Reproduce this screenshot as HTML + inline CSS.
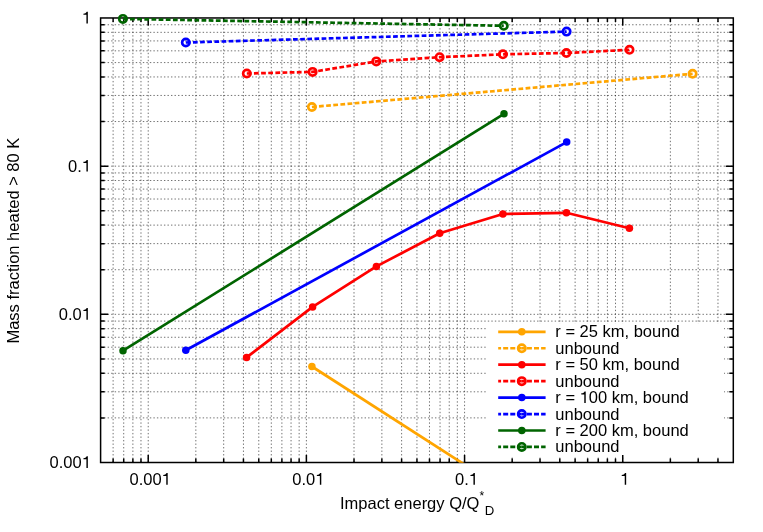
<!DOCTYPE html>
<html><head><meta charset="utf-8"><title>chart</title>
<style>
html,body{margin:0;padding:0;background:#fff}
body{width:763px;height:532px;position:relative;overflow:hidden}
.t{font-family:"Liberation Sans",sans-serif;font-size:16.5px;fill:#000}
</style></head><body>
<svg width="763" height="532" viewBox="0 0 763 532" style="position:absolute;left:0;top:0;will-change:transform">
<rect width="763" height="532" fill="#fff"/>
<g fill="none" stroke="#000" stroke-opacity="0.66" stroke-width="0.85" stroke-dasharray="1.4 2.12">
<path d="M113.12 462.5V17.97M123.71 462.5V17.97M132.89 462.5V17.97M140.98 462.5V17.97M195.83 462.5V17.97M223.68 462.5V17.97M243.45 462.5V17.97M258.77 462.5V17.97M271.3 462.5V17.97M281.89 462.5V17.97M291.06 462.5V17.97M299.15 462.5V17.97M354.01 462.5V17.97M381.86 462.5V17.97M401.62 462.5V17.97M416.95 462.5V17.97M429.47 462.5V17.97M440.06 462.5V17.97M449.24 462.5V17.97M457.33 462.5V17.97M512.18 462.5V17.97M540.03 462.5V17.97M559.8 462.5V17.97M575.12 462.5V17.97M587.65 462.5V17.97M598.24 462.5V17.97M607.41 462.5V17.97M615.5 462.5V17.97M670.36 462.5V17.97M698.21 462.5V17.97M717.97 462.5V17.97M100.6 417.89H733.3M100.6 391.8H733.3M100.6 373.29H733.3M100.6 358.93H733.3M100.6 347.2H733.3M100.6 337.28H733.3M100.6 328.68H733.3M100.6 321.1H733.3M100.6 269.72H733.3M100.6 243.63H733.3M100.6 225.11H733.3M100.6 210.75H733.3M100.6 199.02H733.3M100.6 189.1H733.3M100.6 180.51H733.3M100.6 172.93H733.3M100.6 121.54H733.3M100.6 95.45H733.3M100.6 76.94H733.3M100.6 62.58H733.3M100.6 50.84H733.3M100.6 40.92H733.3M100.6 32.33H733.3M100.6 24.75H733.3"/></g>
<g fill="none" stroke="#000" stroke-opacity="0.66" stroke-width="0.85" stroke-dasharray="1.4 2.12">
<path d="M148.22 462.5V17.97M306.39 462.5V17.97M464.57 462.5V17.97M622.74 462.5V17.97M100.6 314.32H733.3M100.6 166.15H733.3"/></g>
<rect x="487" y="323.5" width="237" height="132.5" fill="#fff"/>
<path d="M148.22 462.5v-7.6 M148.22 17.97v7.6M306.39 462.5v-7.6 M306.39 17.97v7.6M464.57 462.5v-7.6 M464.57 17.97v7.6M622.74 462.5v-7.6 M622.74 17.97v7.6M113.12 462.5v-4 M113.12 17.97v4M123.71 462.5v-4 M123.71 17.97v4M132.89 462.5v-4 M132.89 17.97v4M140.98 462.5v-4 M140.98 17.97v4M195.83 462.5v-4 M195.83 17.97v4M223.68 462.5v-4 M223.68 17.97v4M243.45 462.5v-4 M243.45 17.97v4M258.77 462.5v-4 M258.77 17.97v4M271.3 462.5v-4 M271.3 17.97v4M281.89 462.5v-4 M281.89 17.97v4M291.06 462.5v-4 M291.06 17.97v4M299.15 462.5v-4 M299.15 17.97v4M354.01 462.5v-4 M354.01 17.97v4M381.86 462.5v-4 M381.86 17.97v4M401.62 462.5v-4 M401.62 17.97v4M416.95 462.5v-4 M416.95 17.97v4M429.47 462.5v-4 M429.47 17.97v4M440.06 462.5v-4 M440.06 17.97v4M449.24 462.5v-4 M449.24 17.97v4M457.33 462.5v-4 M457.33 17.97v4M512.18 462.5v-4 M512.18 17.97v4M540.03 462.5v-4 M540.03 17.97v4M559.8 462.5v-4 M559.8 17.97v4M575.12 462.5v-4 M575.12 17.97v4M587.65 462.5v-4 M587.65 17.97v4M598.24 462.5v-4 M598.24 17.97v4M607.41 462.5v-4 M607.41 17.97v4M615.5 462.5v-4 M615.5 17.97v4M670.36 462.5v-4 M670.36 17.97v4M698.21 462.5v-4 M698.21 17.97v4M717.97 462.5v-4 M717.97 17.97v4M100.6 314.32h7.6 M733.3 314.32h-7.6M100.6 166.15h7.6 M733.3 166.15h-7.6M100.6 417.89h4 M733.3 417.89h-4M100.6 391.8h4 M733.3 391.8h-4M100.6 373.29h4 M733.3 373.29h-4M100.6 358.93h4 M733.3 358.93h-4M100.6 347.2h4 M733.3 347.2h-4M100.6 337.28h4 M733.3 337.28h-4M100.6 328.68h4 M733.3 328.68h-4M100.6 321.1h4 M733.3 321.1h-4M100.6 269.72h4 M733.3 269.72h-4M100.6 243.63h4 M733.3 243.63h-4M100.6 225.11h4 M733.3 225.11h-4M100.6 210.75h4 M733.3 210.75h-4M100.6 199.02h4 M733.3 199.02h-4M100.6 189.1h4 M733.3 189.1h-4M100.6 180.51h4 M733.3 180.51h-4M100.6 172.93h4 M733.3 172.93h-4M100.6 121.54h4 M733.3 121.54h-4M100.6 95.45h4 M733.3 95.45h-4M100.6 76.94h4 M733.3 76.94h-4M100.6 62.58h4 M733.3 62.58h-4M100.6 50.84h4 M733.3 50.84h-4M100.6 40.92h4 M733.3 40.92h-4M100.6 32.33h4 M733.3 32.33h-4M100.6 24.75h4 M733.3 24.75h-4" stroke="#000" stroke-width="1.5" fill="none"/>
<rect x="100.6" y="17.97" width="632.7" height="444.53" fill="none" stroke="#000" stroke-width="1.5"/>
<clipPath id="c"><rect x="94.6" y="0" width="644.7" height="462.8"/></clipPath>
<g stroke="#ffa500" fill="none" stroke-width="2.7" stroke-linejoin="round" stroke-linecap="butt">
<polyline clip-path="url(#c)" points="311.9,366.5 471.9,469.3"/>
<circle cx="311.9" cy="366.5" r="3.75" fill="#ffa500" stroke="none"/>
<polyline stroke-dasharray="4.75 2.4" points="311.9,107 692.6,73.8"/>
<circle cx="311.9" cy="107" r="3.68" stroke-width="2.65"/>
<circle cx="692.6" cy="73.8" r="3.68" stroke-width="2.65"/>
</g>
<g stroke="#ff0000" fill="none" stroke-width="2.7" stroke-linejoin="round" stroke-linecap="butt">
<polyline clip-path="url(#c)" points="246.6,357.4 312.6,306.9 376.4,266.4 439.7,233.3 502.9,214 566.4,212.8 629.4,228.2"/>
<circle cx="246.6" cy="357.4" r="3.75" fill="#ff0000" stroke="none"/>
<circle cx="312.6" cy="306.9" r="3.75" fill="#ff0000" stroke="none"/>
<circle cx="376.4" cy="266.4" r="3.75" fill="#ff0000" stroke="none"/>
<circle cx="439.7" cy="233.3" r="3.75" fill="#ff0000" stroke="none"/>
<circle cx="502.9" cy="214" r="3.75" fill="#ff0000" stroke="none"/>
<circle cx="566.4" cy="212.8" r="3.75" fill="#ff0000" stroke="none"/>
<circle cx="629.4" cy="228.2" r="3.75" fill="#ff0000" stroke="none"/>
<polyline stroke-dasharray="4.75 2.4" points="246.8,73.5 312.6,71.9 376.3,61.4 439.6,57.2 502.9,54.3 566.4,53 629.5,49.8"/>
<circle cx="246.8" cy="73.5" r="3.68" stroke-width="2.65"/>
<circle cx="312.6" cy="71.9" r="3.68" stroke-width="2.65"/>
<circle cx="376.3" cy="61.4" r="3.68" stroke-width="2.65"/>
<circle cx="439.6" cy="57.2" r="3.68" stroke-width="2.65"/>
<circle cx="502.9" cy="54.3" r="3.68" stroke-width="2.65"/>
<circle cx="566.4" cy="53" r="3.68" stroke-width="2.65"/>
<circle cx="629.5" cy="49.8" r="3.68" stroke-width="2.65"/>
</g>
<g stroke="#0000ff" fill="none" stroke-width="2.7" stroke-linejoin="round" stroke-linecap="butt">
<polyline clip-path="url(#c)" points="185.8,350.2 566.7,142.1"/>
<circle cx="185.8" cy="350.2" r="3.75" fill="#0000ff" stroke="none"/>
<circle cx="566.7" cy="142.1" r="3.75" fill="#0000ff" stroke="none"/>
<polyline stroke-dasharray="4.75 2.4" points="185.8,42.5 566.6,31.6"/>
<circle cx="185.8" cy="42.5" r="3.68" stroke-width="2.65"/>
<circle cx="566.6" cy="31.6" r="3.68" stroke-width="2.65"/>
</g>
<g stroke="#006400" fill="none" stroke-width="2.7" stroke-linejoin="round" stroke-linecap="butt">
<polyline clip-path="url(#c)" points="123,350.7 504,113.8"/>
<circle cx="123" cy="350.7" r="3.75" fill="#006400" stroke="none"/>
<circle cx="504" cy="113.8" r="3.75" fill="#006400" stroke="none"/>
<polyline stroke-dasharray="4.75 2.4" points="122.9,18.9 503.8,25.8"/>
<circle cx="122.9" cy="18.9" r="3.68" stroke-width="2.65"/>
<circle cx="503.8" cy="25.8" r="3.68" stroke-width="2.65"/>
</g>
<path d="M498.2 331.8H545.6" stroke="#ffa500" stroke-width="2.7"/>
<circle cx="521.8" cy="331.8" r="3.75" fill="#ffa500"/>
<text x="555.3" y="337.3" class="t">r = 25 km, bound</text>
<path d="M498.2 348.25H521.8" stroke="#ffa500" stroke-width="2.7" stroke-dasharray="5 2.1" stroke-dashoffset="2.13"/>
<path d="M521.8 348.25H545.6" stroke="#ffa500" stroke-width="2.7" stroke-dasharray="5 2.1" stroke-dashoffset="2.0"/>
<circle cx="521.8" cy="348.25" r="3.68" fill="none" stroke="#ffa500" stroke-width="2.65"/>
<text x="555.3" y="353.75" class="t">unbound</text>
<path d="M498.2 364.7H545.6" stroke="#ff0000" stroke-width="2.7"/>
<circle cx="521.8" cy="364.7" r="3.75" fill="#ff0000"/>
<text x="555.3" y="370.2" class="t">r = 50 km, bound</text>
<path d="M498.2 381.15H521.8" stroke="#ff0000" stroke-width="2.7" stroke-dasharray="5 2.1" stroke-dashoffset="2.13"/>
<path d="M521.8 381.15H545.6" stroke="#ff0000" stroke-width="2.7" stroke-dasharray="5 2.1" stroke-dashoffset="2.0"/>
<circle cx="521.8" cy="381.15" r="3.68" fill="none" stroke="#ff0000" stroke-width="2.65"/>
<text x="555.3" y="386.65" class="t">unbound</text>
<path d="M498.2 397.6H545.6" stroke="#0000ff" stroke-width="2.7"/>
<circle cx="521.8" cy="397.6" r="3.75" fill="#0000ff"/>
<text x="555.3" y="403.1" class="t">r = </text><path d="M284 0V525H102V590C200 598 262 625 303 709H371V0Z" transform="translate(579.6,403.1) scale(0.0165,-0.0165)"/><text x="588.78" y="403.1" class="t">00 km, bound</text>
<path d="M498.2 414.05H521.8" stroke="#0000ff" stroke-width="2.7" stroke-dasharray="5 2.1" stroke-dashoffset="2.13"/>
<path d="M521.8 414.05H545.6" stroke="#0000ff" stroke-width="2.7" stroke-dasharray="5 2.1" stroke-dashoffset="2.0"/>
<circle cx="521.8" cy="414.05" r="3.68" fill="none" stroke="#0000ff" stroke-width="2.65"/>
<text x="555.3" y="419.55" class="t">unbound</text>
<path d="M498.2 430.5H545.6" stroke="#006400" stroke-width="2.7"/>
<circle cx="521.8" cy="430.5" r="3.75" fill="#006400"/>
<text x="555.3" y="436" class="t">r = 200 km, bound</text>
<path d="M498.2 446.95H521.8" stroke="#006400" stroke-width="2.7" stroke-dasharray="5 2.1" stroke-dashoffset="2.13"/>
<path d="M521.8 446.95H545.6" stroke="#006400" stroke-width="2.7" stroke-dasharray="5 2.1" stroke-dashoffset="2.0"/>
<circle cx="521.8" cy="446.95" r="3.68" fill="none" stroke="#006400" stroke-width="2.65"/>
<text x="555.3" y="452.45" class="t">unbound</text>
<text x="129.47" y="484.7" class="t">0.00</text><path d="M284 0V525H102V590C200 598 262 625 303 709H371V0Z" transform="translate(161.58,484.7) scale(0.0165,-0.0165)"/>
<text x="49.62" y="467.95" class="t">0.00</text><path d="M284 0V525H102V590C200 598 262 625 303 709H371V0Z" transform="translate(81.73,467.95) scale(0.0165,-0.0165)"/>
<text x="292.24" y="484.7" class="t">0.0</text><path d="M284 0V525H102V590C200 598 262 625 303 709H371V0Z" transform="translate(315.17,484.7) scale(0.0165,-0.0165)"/>
<text x="58.79" y="319.77" class="t">0.0</text><path d="M284 0V525H102V590C200 598 262 625 303 709H371V0Z" transform="translate(81.73,319.77) scale(0.0165,-0.0165)"/>
<text x="455" y="484.7" class="t">0.</text><path d="M284 0V525H102V590C200 598 262 625 303 709H371V0Z" transform="translate(468.76,484.7) scale(0.0165,-0.0165)"/>
<text x="67.97" y="171.6" class="t">0.</text><path d="M284 0V525H102V590C200 598 262 625 303 709H371V0Z" transform="translate(81.73,171.6) scale(0.0165,-0.0165)"/>
<path d="M284 0V525H102V590C200 598 262 625 303 709H371V0Z" transform="translate(620.05,484.7) scale(0.0165,-0.0165)"/>
<path d="M284 0V525H102V590C200 598 262 625 303 709H371V0Z" transform="translate(81.73,23.42) scale(0.0165,-0.0165)"/>
<text x="340" y="508.7" class="t">Impact energy Q/Q<tspan font-size="12" dy="-9">*</tspan><tspan font-size="13.2" dy="14.9" dx="0.6">D</tspan></text>
<text transform="translate(18.9,343.6) rotate(-90)" class="t">Mass fraction heated &gt; 80 K</text>
</svg>
</body></html>
